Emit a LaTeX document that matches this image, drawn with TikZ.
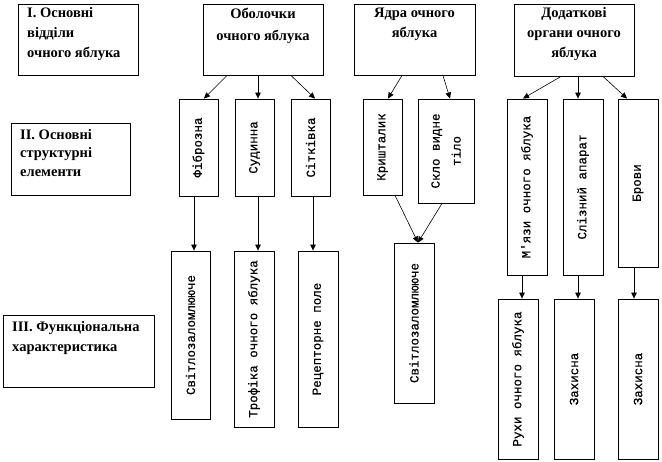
\documentclass[tikz,border=0pt]{standalone}
\usepackage{fontspec}
\setmainfont{Liberation Serif}
\newfontfamily\monofont[FakeBold=0.6]{Liberation Mono}
\usetikzlibrary{arrows.meta}
\begin{document}
\begin{tikzpicture}[x=1pt,y=-1pt,
  box/.style={draw=black,line width=0.9pt,inner sep=0pt,fill=white},
  hdr/.style={font=\bfseries\fontsize{14.5}{20}\selectfont,align=center,inner sep=0pt,anchor=north},
  lhdr/.style={font=\bfseries\fontsize{14.5}{20}\selectfont,align=left,inner sep=0pt,anchor=north west},
  vtxt/.style={font=\monofont\fontsize{12.5}{21}\selectfont,rotate=90,align=center,inner sep=0pt},
  arr/.style={line width=0.6pt,-{Triangle[length=6pt,width=5.5pt]}}]
\useasboundingbox (0,0) rectangle (662,462);
\fill[white] (0,0) rectangle (662,462);
% level I headers
\node[box,minimum width=120pt,minimum height=71pt] (b1) at (78,39.5) {};
\node[lhdr] (t1) at (27,7) {I. Основні\\відділи\\очного яблука};
\node[box,minimum width=120pt,minimum height=71pt] (obo) at (263,39.5) {};
\node[hdr,font=\bfseries\fontsize{14.5}{22.5}\selectfont] (tobo) at (263,7.5) {Оболочки\\очного яблука};
\node[box,minimum width=121pt,minimum height=71pt] (yad) at (414.5,39.5) {};
\node[hdr] (tyad) at (414.5,7.5) {Ядра очного\\яблука};
\node[box,minimum width=120pt,minimum height=72pt] (dod) at (574,40) {};
\node[hdr] (tdod) at (574,7.5) {Додаткові\\органи очного\\яблука};
% level II header
\node[box,minimum width=119pt,minimum height=72pt] (b2) at (70.5,159) {};
\node[lhdr,font=\bfseries\fontsize{14.5}{18.5}\selectfont] (t2) at (20,129) {II. Основні\\структурні\\елементи};
% level III header
\node[box,minimum width=151pt,minimum height=72pt] (b3) at (78.5,351) {};
\node[lhdr] (t3) at (12,321) {III. Функціональна\\характеристика};
% level II boxes
\node[box,minimum width=39pt,minimum height=97pt] (fib) at (198.5,147.5) {};
\node[vtxt] at (fib.center) {Фіброзна};
\node[box,minimum width=39pt,minimum height=97pt] (sud) at (254.5,147.5) {};
\node[vtxt] at (sud.center) {Судинна};
\node[box,minimum width=39pt,minimum height=97pt] (sit) at (310.5,147.5) {};
\node[vtxt] at (sit.center) {Сітківка};
\node[box,minimum width=39pt,minimum height=96pt] (kry) at (382.5,147) {};
\node[vtxt] at (kry.center) {Кришталик};
\node[box,minimum width=56pt,minimum height=104pt] (skl) at (446,151) {};
\node[vtxt] at (skl.center) {Скло видне\\тіло};
\node[box,minimum width=40pt,minimum height=176pt] (mya) at (527,187) {};
\node[vtxt] at (mya.center) {М'язи очного яблука};
\node[box,minimum width=40pt,minimum height=176pt] (sli) at (583,187) {};
\node[vtxt] at (sli.center) {Слізний апарат};
\node[box,minimum width=40pt,minimum height=168pt] (bro) at (638,183) {};
\node[vtxt] at (bro.center) {Брови};
% level III boxes
\node[box,minimum width=39pt,minimum height=168pt] (sv1) at (190.5,335) {};
\node[vtxt] at (sv1.center) {Світлозаломлююче};
\node[box,minimum width=40pt,minimum height=176pt] (tro) at (254,339) {};
\node[vtxt] at (tro.center) {Трофіка очного яблука};
\node[box,minimum width=40pt,minimum height=176pt] (rec) at (318,339) {};
\node[vtxt] at (rec.center) {Рецепторне поле};
\node[box,minimum width=40pt,minimum height=160pt] (sv2) at (414,323) {};
\node[vtxt] at (sv2.center) {Світлозаломлююче};
\node[box,minimum width=40pt,minimum height=160pt] (ruh) at (518,379) {};
\node[vtxt] at (ruh.center) {Рухи очного яблука};
\node[box,minimum width=40pt,minimum height=160pt] (za1) at (574,379) {};
\node[vtxt] at (za1.center) {Захисна};
\node[box,minimum width=40pt,minimum height=160pt] (za2) at (638,379) {};
\node[vtxt] at (za2.center) {Захисна};
% arrows from headers
\draw[arr] ([xshift=-36pt]obo.south) -- ([xshift=5.5pt]fib.north);
\draw[arr] ([xshift=-5pt]obo.south) -- ([xshift=3.5pt]sud.north);
\draw[arr] ([xshift=28pt]obo.south) -- ([xshift=4.5pt]sit.north);
\draw[arr] ([xshift=-12.5pt]yad.south) -- ([xshift=5.5pt]kry.north);
\draw[arr] ([xshift=28.5pt]yad.south) -- ([xshift=4pt]skl.north);
\draw[arr] ([xshift=-13pt]dod.south) -- ([xshift=-4pt]mya.north);
\draw[arr] ([xshift=4pt]dod.south) -- ([xshift=-5pt]sli.north);
\draw[arr] ([xshift=29pt]dod.south) -- ([xshift=-11pt]bro.north);
% arrows level II to III
\draw[arr] ([xshift=-4.5pt]fib.south) -- ([xshift=3.5pt]sv1.north);
\draw[arr] ([xshift=3.5pt]sud.south) -- ([xshift=4pt]tro.north);
\draw[arr] ([xshift=2.5pt]sit.south) -- ([xshift=-5pt]rec.north);
\draw[arr] ([xshift=12.5pt]kry.south) -- ([xshift=4pt]sv2.north);
\draw[arr] ([xshift=-4pt]skl.south) -- ([xshift=4pt]sv2.north);
\draw[arr] ([xshift=-5pt]mya.south) -- ([xshift=4pt]ruh.north);
\draw[arr] ([xshift=-5pt]sli.south) -- ([xshift=4pt]za1.north);
\draw[arr] ([xshift=-4pt]bro.south) -- ([xshift=-4pt]za2.north);
\end{tikzpicture}
\end{document}
